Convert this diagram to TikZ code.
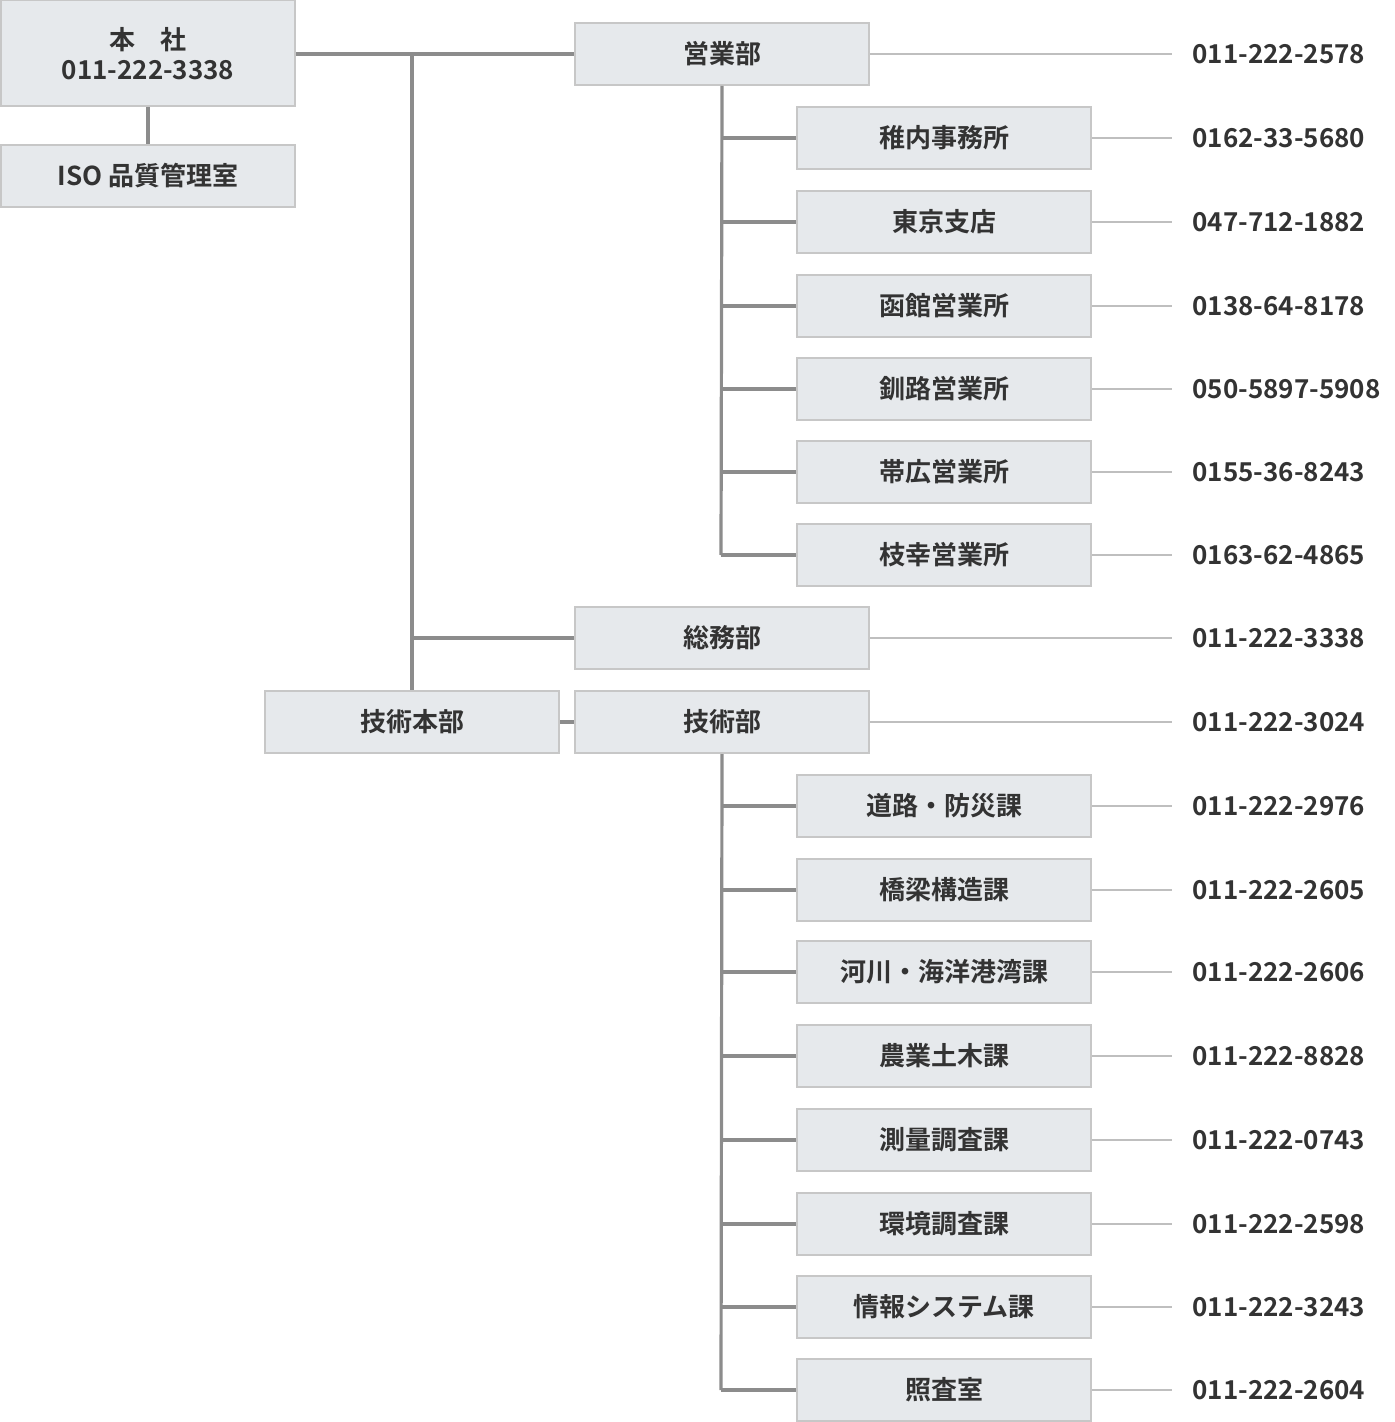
\documentclass[tikz,border=0pt]{standalone}
\usepackage{fontspec}
\setmainfont{Noto Sans CJK JP}[BoldFont=* Bold]
\begin{document}
\begin{tikzpicture}[x=0.5pt,y=-0.5pt,
 box/.style={draw=black!22,line width=1pt,fill=boxfill,minimum width=147pt,minimum height=31pt,inner sep=0pt,font=\fontsize{13}{15}\selectfont\bfseries,text=black!80},
 thick/.style={draw=black!45,line width=1.6pt},
 thin/.style={draw=black!25,line width=0.6pt},
 tel/.style={anchor=west,inner sep=0pt,font=\fontsize{13}{15}\selectfont\bfseries,text=black!80}]
\definecolor{boxfill}{HTML}{E6E9EC}
\useasboundingbox (0,0) rectangle (1394,1422);
\node[box,minimum height=53pt,align=center] (hq) at (148,53.5) {本\quad 社\\011-222-3338};
\node[box] (iso) at (148,176) {ISO 品質管理室};
\node[box] (eigyo) at (722,54) {営業部};
\node[box] (somu) at (722,638) {総務部};
\node[box] (ghq) at (412,722) {技術本部};
\node[box] (gijutsu) at (722,722) {技術部};
\draw[thick] (hq) -- (iso);
\draw[thick] (hq.east |- eigyo) -- (eigyo.west);
\coordinate (v1) at (412,54);
\draw[thick] (v1) -- (ghq.north);
\draw[thick] (412,638) -- (somu.west);
\draw[thick] (ghq) -- (gijutsu);
\coordinate (tA) at (1192,54);
\draw[thin] (eigyo.east) -- (1172,54);
\node[tel] at (tA) {011-222-2578};
\draw[thin] (somu.east) -- (1172,638);
\node[tel] at (1192,638) {011-222-3338};
\draw[thin] (gijutsu.east) -- (1172,722);
\node[tel] at (1192,722) {011-222-3024};
\foreach \n/\y/\t/\p in {a/138/稚内事務所/0162-33-5680,b/222/東京支店/047-712-1882,c/306/函館営業所/0138-64-8178,d/389/釧路営業所/050-5897-5908,e/472/帯広営業所/0155-36-8243,f/555/枝幸営業所/0163-62-4865}{
 \node[box] (s\n) at (944,\y) {\t};
 \draw[thick] (721,\y) -- (s\n.west);
 \draw[thin] (s\n.east) -- (1172,\y);
 \node[tel] (p\n) at (1192,\y) {\p};}
\draw[thick] (eigyo.south) -- (721,555);
\foreach \n/\y/\t/\p in {a/806/道路・防災課/011-222-2976,b/890/橋梁構造課/011-222-2605,c/972/河川・海洋港湾課/011-222-2606,d/1056/農業土木課/011-222-8828,e/1140/測量調査課/011-222-0743,f/1224/環境調査課/011-222-2598,g/1307/情報システム課/011-222-3243,h/1390/照査室/011-222-2604}{
 \node[box] (t\n) at (944,\y) {\t};
 \draw[thick] (721,\y) -- (t\n.west);
 \draw[thin] (t\n.east) -- (1172,\y);
 \node[tel] (q\n) at (1192,\y) {\p};}
\draw[thick] (gijutsu.south) -- (721,1390);
\end{tikzpicture}
\end{document}
